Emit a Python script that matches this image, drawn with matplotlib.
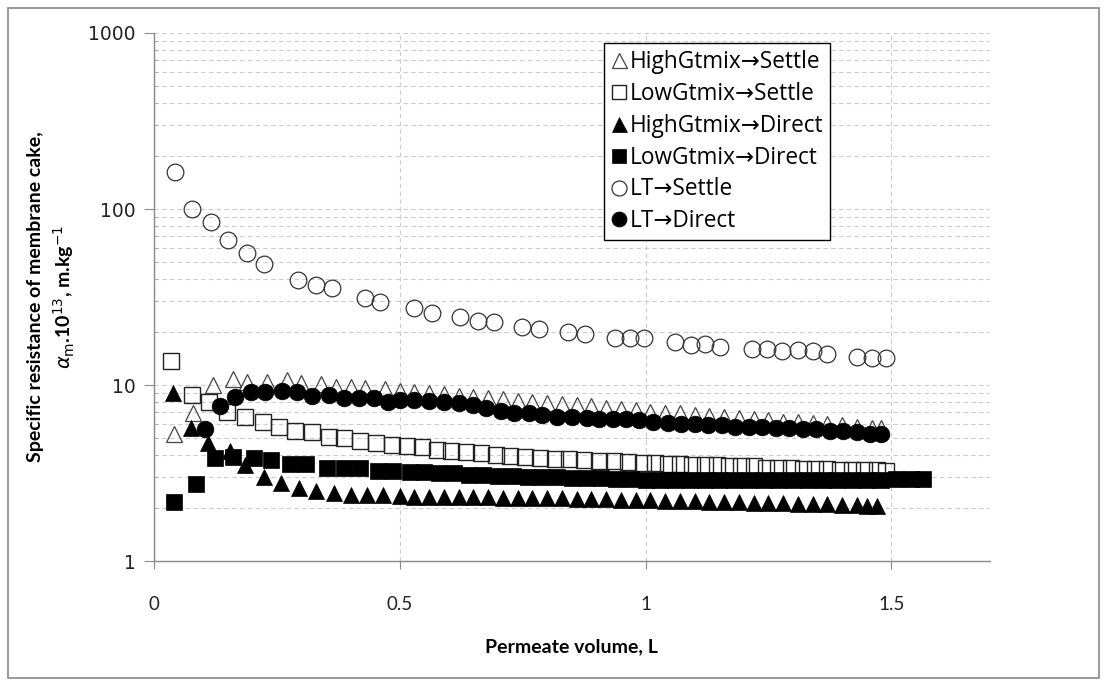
import matplotlib
matplotlib.use("Agg")
import matplotlib.pyplot as plt
from matplotlib.patches import Rectangle
from matplotlib.ticker import LogLocator, NullFormatter, FixedLocator

# series data (permeate volume L, resistance x1e13 m/kg)
hs_x = [0.04, 0.08, 0.12, 0.16, 0.19, 0.23, 0.27, 0.30, 0.34, 0.37, 0.40, 0.43, 0.47, 0.50,
        0.53, 0.56, 0.59, 0.62, 0.65, 0.68, 0.71, 0.74, 0.77, 0.80, 0.83, 0.86, 0.89, 0.92,
        0.95, 0.98, 1.01, 1.04, 1.07, 1.10, 1.13, 1.16, 1.19, 1.22, 1.25, 1.28, 1.31, 1.34,
        1.37, 1.40, 1.43, 1.46, 1.48]
hs_y = [5.3, 6.9, 10.0, 10.8, 10.4, 10.4, 10.7, 10.3, 10.1, 9.7, 9.7, 9.6, 9.5, 9.2,
        9.1, 9.0, 8.9, 8.7, 8.6, 8.4, 8.3, 8.1, 8.0, 7.9, 7.8, 7.7, 7.6, 7.4,
        7.3, 7.2, 7.0, 6.9, 6.9, 6.8, 6.7, 6.6, 6.5, 6.4, 6.3, 6.2, 6.2, 6.1,
        6.0, 5.9, 5.8, 5.7, 5.7]

ls_x = [0.035, 0.077, 0.113, 0.148, 0.186, 0.222, 0.255, 0.288, 0.322, 0.356, 0.387, 0.42,
        0.452, 0.484, 0.515, 0.545, 0.575, 0.605, 0.635, 0.665, 0.695, 0.725, 0.755, 0.785,
        0.815, 0.845, 0.875, 0.905, 0.935, 0.965, 0.995, 1.02, 1.045, 1.07, 1.095, 1.12,
        1.145, 1.17, 1.195, 1.22, 1.245, 1.27, 1.295, 1.32, 1.345, 1.37, 1.395, 1.42,
        1.445, 1.47, 1.49]
ls_y = [13.7, 8.8, 8.0, 7.0, 6.6, 6.2, 5.8, 5.5, 5.4, 5.1, 5.0, 4.8,
        4.7, 4.55, 4.5, 4.45, 4.3, 4.2, 4.15, 4.1, 4.0, 3.95, 3.9, 3.85,
        3.8, 3.8, 3.75, 3.7, 3.7, 3.65, 3.6, 3.6, 3.55, 3.55, 3.5, 3.5,
        3.5, 3.45, 3.45, 3.45, 3.4, 3.4, 3.4, 3.35, 3.35, 3.35, 3.3, 3.3,
        3.3, 3.3, 3.25]

hd_x = [0.038, 0.076, 0.111, 0.154, 0.186, 0.223, 0.259, 0.295, 0.33, 0.366, 0.40, 0.433,
        0.466, 0.50, 0.53, 0.56, 0.59, 0.62, 0.65, 0.68, 0.71, 0.74, 0.77, 0.80, 0.83,
        0.86, 0.89, 0.92, 0.95, 0.98, 1.01, 1.04, 1.07, 1.10, 1.13, 1.16, 1.19, 1.22,
        1.25, 1.28, 1.31, 1.34, 1.37, 1.40, 1.43, 1.45, 1.47]
hd_y = [9.0, 5.7, 4.7, 4.2, 3.5, 3.0, 2.77, 2.6, 2.5, 2.43, 2.37, 2.37,
        2.37, 2.33, 2.32, 2.32, 2.31, 2.31, 2.30, 2.30, 2.29, 2.29, 2.28, 2.28, 2.27,
        2.26, 2.25, 2.24, 2.23, 2.22, 2.22, 2.21, 2.20, 2.19, 2.18, 2.17, 2.16, 2.15,
        2.14, 2.13, 2.12, 2.11, 2.10, 2.09, 2.08, 2.07, 2.06]

ld_x = [0.04, 0.085, 0.125, 0.16, 0.204, 0.239, 0.277, 0.31, 0.352, 0.386, 0.42, 0.455,
        0.487, 0.52, 0.55, 0.58, 0.61, 0.64, 0.67, 0.70, 0.73, 0.76, 0.79, 0.82, 0.85,
        0.88, 0.91, 0.94, 0.97, 1.00, 1.03, 1.06, 1.09, 1.12, 1.15, 1.18, 1.21, 1.24,
        1.27, 1.30, 1.33, 1.36, 1.39, 1.42, 1.45, 1.48, 1.51, 1.54, 1.565]
ld_y = [2.16, 2.74, 3.85, 3.9, 3.85, 3.75, 3.56, 3.55, 3.37, 3.37, 3.37, 3.25,
        3.25, 3.2, 3.2, 3.15, 3.15, 3.1, 3.1, 3.05, 3.05, 3.0, 3.0, 3.0, 2.95,
        2.95, 2.95, 2.92, 2.92, 2.9, 2.9, 2.9, 2.9, 2.9, 2.9, 2.9, 2.9, 2.9,
        2.9, 2.9, 2.9, 2.9, 2.9, 2.9, 2.9, 2.9, 2.92, 2.92, 2.92]

lts_x = [0.043, 0.077, 0.117, 0.15, 0.19, 0.225, 0.294, 0.33, 0.362, 0.43, 0.46, 0.53,
         0.565, 0.623, 0.66, 0.692, 0.749, 0.784, 0.842, 0.877, 0.937, 0.968, 0.996,
         1.059, 1.093, 1.121, 1.152, 1.217, 1.247, 1.277, 1.31, 1.34, 1.37, 1.43, 1.46, 1.49]
lts_y = [162, 100, 84, 67, 56, 49, 39.5, 37, 35.6, 31.2, 29.6, 27.4,
         25.6, 24.3, 23.1, 22.8, 21.3, 20.8, 20.0, 19.5, 18.6, 18.5, 18.5,
         17.6, 16.9, 17.1, 16.4, 16.0, 16.0, 15.6, 15.8, 15.6, 15.0, 14.4, 14.2, 14.2]

ltd_x = [0.103, 0.135, 0.166, 0.198, 0.227, 0.261, 0.291, 0.322, 0.356, 0.386, 0.417, 0.447,
         0.476, 0.50, 0.53, 0.56, 0.59, 0.62, 0.65, 0.676, 0.706, 0.733, 0.763, 0.79,
         0.82, 0.85, 0.88, 0.905, 0.933, 0.96, 0.986, 1.016, 1.045, 1.072, 1.10, 1.127,
         1.155, 1.182, 1.21, 1.237, 1.265, 1.292, 1.32, 1.347, 1.375, 1.402, 1.43, 1.457, 1.48]
ltd_y = [5.6, 7.6, 8.55, 9.1, 9.1, 9.2, 9.1, 8.7, 8.8, 8.4, 8.4, 8.4,
         8.0, 8.2, 8.2, 8.1, 8.0, 7.9, 7.7, 7.4, 7.1, 6.9, 6.9, 6.75,
         6.6, 6.6, 6.5, 6.45, 6.4, 6.4, 6.3, 6.2, 6.1, 6.0, 6.0, 5.9,
         5.9, 5.8, 5.8, 5.8, 5.7, 5.7, 5.6, 5.6, 5.5, 5.5, 5.4, 5.3, 5.25]

labels = ["HighGtmix\u2192Settle", "LowGtmix\u2192Settle", "HighGtmix\u2192Direct",
          "LowGtmix\u2192Direct", "LT\u2192Settle", "LT\u2192Direct"]

txt_font = ["Lato", "DejaVu Sans"]
leg_font = ["Open Sans", "DejaVu Sans"]

fig = plt.figure(figsize=(11.07, 6.86), dpi=100)
ax = fig.add_axes([0.139, 0.182, 0.755, 0.770])

ms = 12
ax.plot(hs_x, hs_y, ls="none", marker="^", ms=ms, mfc="none", mec="#444444", mew=0.9, label=labels[0])
ax.plot(ls_x, ls_y, ls="none", marker="s", ms=ms - 0.5, mfc="none", mec="#222222", mew=1.0, label=labels[1])
ax.plot(hd_x, hd_y, ls="none", marker="^", ms=ms, mfc="black", mec="black", mew=0.5, label=labels[2])
ax.plot(ld_x, ld_y, ls="none", marker="s", ms=ms - 0.5, mfc="black", mec="black", mew=0.5, label=labels[3])
ax.plot(lts_x, lts_y, ls="none", marker="o", ms=ms, mfc="none", mec="#333333", mew=0.9, label=labels[4])
ax.plot(ltd_x, ltd_y, ls="none", marker="o", ms=ms, mfc="black", mec="black", mew=0.5, label=labels[5])

ax.set_yscale("log")
ax.set_ylim(1, 1000)
ax.set_xlim(0, 1.7)
ax.xaxis.set_major_locator(FixedLocator([0, 0.5, 1, 1.5]))
ax.set_xticklabels(["0", "0.5", "1", "1.5"], family=txt_font, fontsize=13.5)
ax.yaxis.set_major_locator(FixedLocator([1, 10, 100, 1000]))
ax.set_yticklabels(["1", "10", "100", "1000"], family="DejaVu Sans", fontsize=13.5)
ax.yaxis.set_minor_locator(LogLocator(base=10, subs=range(2, 10)))
ax.yaxis.set_minor_formatter(NullFormatter())

ax.grid(True, which="major", axis="both", color="#cccccc", ls=(0, (4, 3)), lw=0.8)
ax.grid(True, which="minor", axis="y", color="#cccccc", ls=(0, (4, 3)), lw=0.8)
ax.set_axisbelow(True)

for s in ["top", "right"]:
    ax.spines[s].set_visible(False)
for s in ["left", "bottom"]:
    ax.spines[s].set_color("#888888")
    ax.spines[s].set_linewidth(1.0)

ax.tick_params(axis="y", which="major", direction="out", length=7, color="#888888", pad=6, labelcolor="#222222")
ax.tick_params(axis="y", which="minor", direction="in", length=3, color="#aaaaaa")
ax.tick_params(axis="x", which="major", direction="out", length=6, color="#888888", pad=19, labelcolor="#222222")

ax.set_xlabel("Permeate volume, L", family=txt_font, fontsize=14, fontweight="bold", labelpad=18)
ax.set_ylabel("Specific resistance of membrane cake,\n$\\alpha_{\\mathrm{m}}$.10$^{13}$, m.kg$^{-1}$",
              family=txt_font, fontsize=14, fontweight="bold", labelpad=8, linespacing=1.4)

leg = ax.legend(loc="upper left", bbox_to_anchor=(0.538, 0.981), prop={"family": leg_font, "size": 16.3},
                frameon=True, fancybox=False, framealpha=1, edgecolor="black",
                handlelength=0.75, handletextpad=0.12, labelspacing=0.35, borderpad=0.3,
                borderaxespad=0, markerscale=0.9)
leg.get_frame().set_linewidth(1.0)

fig.patches.append(Rectangle((0.007, 0.012), 0.986, 0.976, transform=fig.transFigure,
                             fill=False, edgecolor="#888888", lw=1.2))

fig.savefig("out.png", dpi=100)
